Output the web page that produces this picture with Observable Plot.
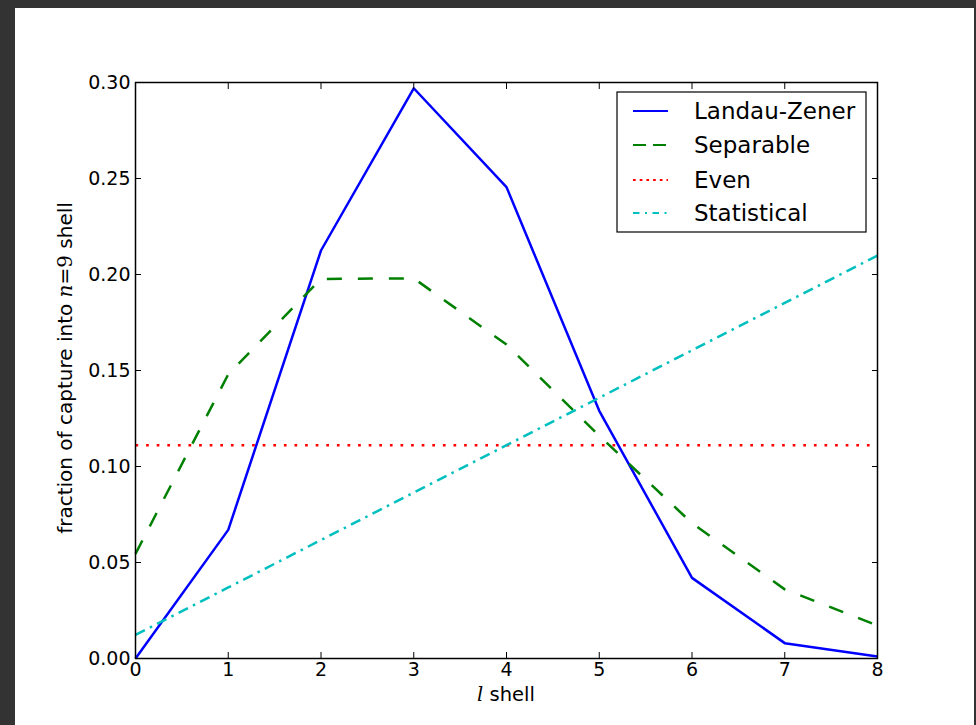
<!DOCTYPE html>
<html>
<head>
<meta charset="utf-8">
<script src="https://cdn.jsdelivr.net/npm/d3@7"></script>
<script src="https://cdn.jsdelivr.net/npm/@observablehq/plot@0.6"></script>
<style>
  html, body { margin: 0; padding: 0; background: #333333; }
  #frame { position: absolute; left: 15px; top: 8px; width: 959px; height: 717px; background: #ffffff; }
  svg { font-family: "DejaVu Sans", sans-serif; }
</style>
</head>
<body>
<div id="frame"></div>
<script>
const shells = [0, 1, 2, 3, 4, 5, 6, 7, 8];
const landauZener = [0.000, 0.067, 0.2125, 0.297, 0.2455, 0.129, 0.042, 0.008, 0.001];
const separable   = [0.0545, 0.148, 0.1977, 0.198, 0.1635, 0.116, 0.0705, 0.036, 0.0172];
const even        = [0.1111, 0.1111, 0.1111, 0.1111, 0.1111, 0.1111, 0.1111, 0.1111, 0.1111];
const statistical = [0.0123, 0.0370, 0.0617, 0.0864, 0.1111, 0.1358, 0.1605, 0.1852, 0.2099];
const xTicks = [0, 1, 2, 3, 4, 5, 6, 7, 8];
const yTicks = [0.00, 0.05, 0.10, 0.15, 0.20, 0.25, 0.30];

const seriesNames = ["Landau-Zener", "Separable", "Even", "Statistical"];
const seriesValues = [landauZener, separable, even, statistical];
const styles = {
  "Landau-Zener": {stroke: "#0000ff", dash: null, legendDash: null},
  "Separable":    {stroke: "#008000", dash: "15,16", legendDash: "13,7"},
  "Even":         {stroke: "#ff0000", dash: "2.7,7.9", legendDash: "2.7,4"},
  "Statistical":  {stroke: "#00bfbf", dash: "10.5,5.6,2.5,5.6", legendDash: "6.5,5.5,2,5.5"}
};

const W = 959, H = 717;
const mL = 120, mR = 97, mT = 74, mB = 67;

const lineMarks = seriesNames.map((name, i) => {
  const data = shells.map((s, j) => ({shell: s, value: seriesValues[i][j]}));
  return Plot.line(data, {
    x: "shell", y: "value",
    stroke: styles[name].stroke,
    strokeWidth: 2.5,
    strokeDasharray: styles[name].dash,
    strokeLinecap: "butt",
    strokeLinejoin: "round"
  });
});

const chart = Plot.plot({
  width: W, height: H,
  marginLeft: mL, marginRight: mR, marginTop: mT, marginBottom: mB,
  style: {fontFamily: "DejaVu Sans, sans-serif", fontSize: "19px", background: "transparent", color: "black"},
  x: {domain: [0, 8]},
  y: {domain: [0, 0.30]},
  marks: [
    ...lineMarks,
    Plot.frame({stroke: "black", strokeWidth: 1.5}),
    Plot.axisX(xTicks, {anchor: "bottom", tickSize: 0, tickPadding: 4, fontSize: 19, label: null, tickFormat: d3.format("d")}),
    Plot.axisX(xTicks, {anchor: "bottom", tickSize: -6, tickFormat: () => "", label: null}),
    Plot.axisX(xTicks, {anchor: "top", tickSize: -6, tickFormat: () => "", label: null}),
    Plot.axisY(yTicks, {anchor: "left", tickSize: 0, tickPadding: 5, fontSize: 19, label: null, tickFormat: d3.format(".2f")}),
    Plot.axisY(yTicks, {anchor: "left", tickSize: -6, tickFormat: () => "", label: null}),
    Plot.axisY(yTicks, {anchor: "right", tickSize: -6, tickFormat: () => "", label: null})
  ]
});

document.getElementById("frame").appendChild(chart);

const svg = d3.select(chart);
svg.selectAll('g[aria-label$="tick label"] text').style("font-size", "19px");

// Axis labels
const yl = svg.append("text")
  .attr("transform", `translate(51,${mT + (H - mT - mB) / 2 - 2}) rotate(-90)`)
  .attr("text-anchor", "middle")
  .attr("dominant-baseline", "middle")
  .style("font-size", "20px")
  .attr("fill", "black");
yl.append("tspan").text("fraction of capture into ");
yl.append("tspan").attr("font-family", "DejaVu Serif").attr("font-style", "italic").text("n");
yl.append("tspan").attr("font-family", "DejaVu Serif").text("=9");
yl.append("tspan").text(" shell");

const xl = svg.append("text")
  .attr("x", mL + (W - mL - mR) / 2)
  .attr("y", H - mB + 43)
  .attr("text-anchor", "middle")
  .style("font-size", "19.5px")
  .attr("fill", "black");
xl.append("tspan").attr("font-family", "DejaVu Serif").attr("font-style", "italic").text("l");
xl.append("tspan").text(" shell");

// Legend
const lg = svg.append("g").attr("transform", "translate(602,84)");
lg.append("rect").attr("width", 249).attr("height", 140)
  .attr("fill", "white").attr("stroke", "black").attr("stroke-width", 1.2);
const rowY = [19, 53, 88, 121];
seriesNames.forEach((name, i) => {
  lg.append("line")
    .attr("x1", 16).attr("x2", 51).attr("y1", rowY[i]).attr("y2", rowY[i])
    .attr("stroke", styles[name].stroke).attr("stroke-width", name === "Landau-Zener" ? 1.8 : 2.2)
    .attr("stroke-dasharray", styles[name].legendDash);
  lg.append("text")
    .attr("x", 77).attr("y", rowY[i])
    .attr("text-anchor", "start")
    .attr("dominant-baseline", "central")
    .style("font-size", "23px")
    .attr("fill", "black")
    .text(name);
});
</script>
</body>
</html>
